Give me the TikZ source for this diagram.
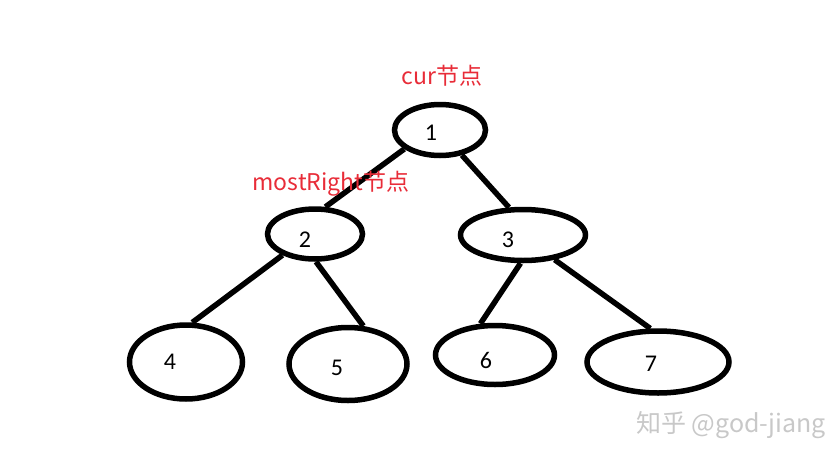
\documentclass[tikz,border=0pt]{standalone}
\usepackage{fontspec}
\usepackage{xcolor}
\usepackage{tikz}
\usetikzlibrary{shapes.geometric}
\setmainfont{Carlito}
\newfontfamily\cjk{Noto Sans CJK SC}
\definecolor{labelred}{RGB}{232,44,56}
\definecolor{markgray}{RGB}{200,200,200}

\begin{document}
\begin{tikzpicture}[x=1pt,y=-1pt,
    vert/.style={ellipse, draw=black, line width=5.5pt, inner sep=0pt},
    num/.style={font=\fontsize{24}{24}\selectfont},
    tag/.style={text=labelred, font=\cjk\fontsize{23}{23}\selectfont},
    edge/.style={black, line width=5.5pt}]
                \useasboundingbox (0,0) rectangle (835,455);

                % Tree nodes
                \node[vert, minimum width=91, minimum height=51,
                      label={[num, xshift=-9pt, yshift=-3pt]center:1}] (n1) at (440,130) {};
                \node[vert, minimum width=95, minimum height=50,
                      label={[num, xshift=-10pt, yshift=-6pt]center:2}] (n2) at (315,234) {};
                \node[vert, minimum width=125, minimum height=51,
                      label={[num, xshift=-15pt, yshift=-5pt]center:3}] (n3) at (523,235) {};
                \node[vert, minimum width=113, minimum height=74,
                      label={[num, xshift=-16pt]center:4}] (n4) at (186,362) {};
                \node[vert, minimum width=118, minimum height=73,
                      label={[num, xshift=-11pt, yshift=-4pt]center:5}] (n5) at (348,364) {};
                \node[vert, minimum width=119, minimum height=59,
                      label={[num, xshift=-9pt, yshift=-5pt]center:6}] (n6) at (495,355) {};
                \node[vert, minimum width=142, minimum height=62,
                      label={[num, xshift=-7pt, yshift=-2pt]center:7}] (n7) at (658,362) {};

                % Edges
                \draw[edge] (n1.208) -- (n2.69);
                \draw[edge] (n1.311) -- (n3.117);
                \draw[edge] (n2.213) -- (n4.81);
                \draw[edge] (n2.272) -- (n5.68);
                \draw[edge] (n3.265) -- (n6.115);
                \draw[edge] (n3.322) -- (n7.103);

                % Red tags
                \node[tag] (curtag) at (442,76) {cur节点};
                \node[tag] (righttag) at (331,184) {mostRight节点};

                % Watermark
                \node[text=markgray, font=\cjk\fontsize{25}{25}\selectfont] (mark) at (731,425) {知乎 @god-jiang};
            \end{tikzpicture}
\end{document}
